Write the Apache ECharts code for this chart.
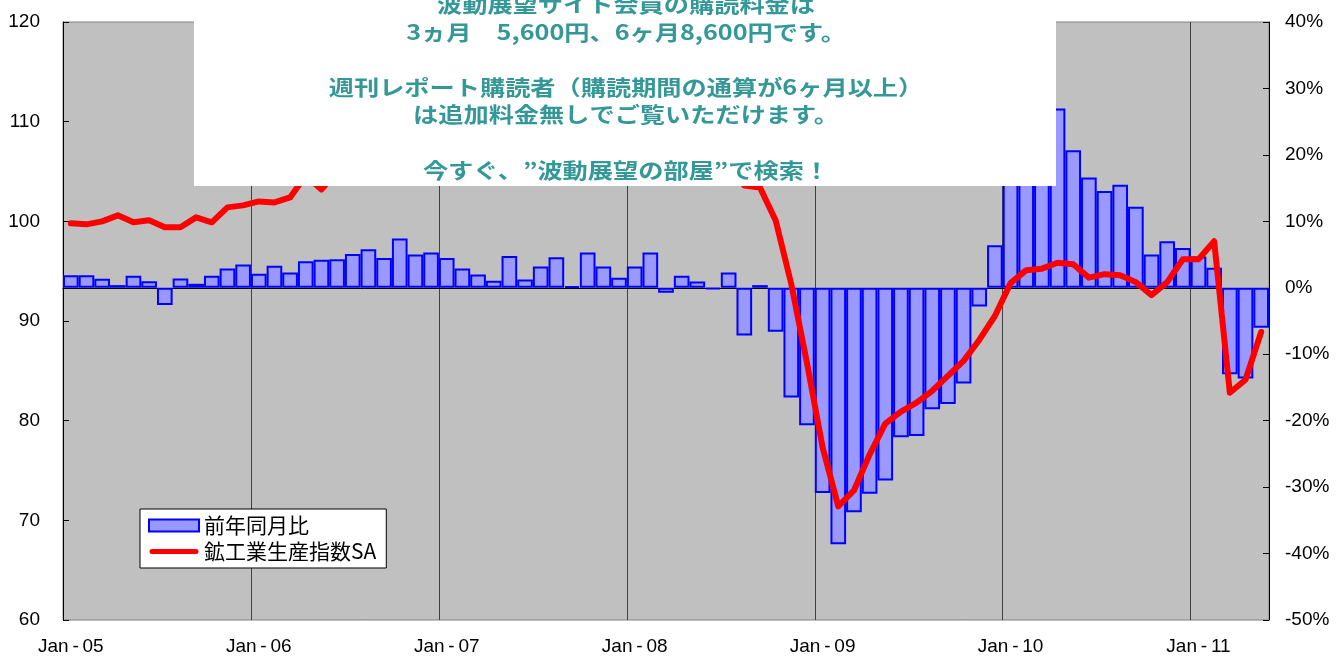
<!DOCTYPE html>
<html>
<head>
<meta charset="utf-8">
<script src="https://cdn.jsdelivr.net/npm/echarts@6/dist/echarts.min.js"></script>
<style>
  html, body { margin: 0; padding: 0; background: #ffffff; }
  #chart { width: 1340px; height: 659px; }
</style>
</head>
<body>
<div id="chart"></div>
<script>
// Monthly categories, Jan-05 .. May-11
const categories = [
  'Jan-05','Feb-05','Mar-05','Apr-05','May-05','Jun-05','Jul-05','Aug-05','Sep-05','Oct-05','Nov-05','Dec-05',
  'Jan-06','Feb-06','Mar-06','Apr-06','May-06','Jun-06','Jul-06','Aug-06','Sep-06','Oct-06','Nov-06','Dec-06',
  'Jan-07','Feb-07','Mar-07','Apr-07','May-07','Jun-07','Jul-07','Aug-07','Sep-07','Oct-07','Nov-07','Dec-07',
  'Jan-08','Feb-08','Mar-08','Apr-08','May-08','Jun-08','Jul-08','Aug-08','Sep-08','Oct-08','Nov-08','Dec-08',
  'Jan-09','Feb-09','Mar-09','Apr-09','May-09','Jun-09','Jul-09','Aug-09','Sep-09','Oct-09','Nov-09','Dec-09',
  'Jan-10','Feb-10','Mar-10','Apr-10','May-10','Jun-10','Jul-10','Aug-10','Sep-10','Oct-10','Nov-10','Dec-10',
  'Jan-11','Feb-11','Mar-11','Apr-11','May-11'
];

// Year-on-year change, % (right axis)
const yoyPct = [
   1.9,  1.9,  1.35, 0.4,  1.8,  1.0, -2.6,  1.4,  0.6,  1.8,  2.9,  3.5,
   2.1,  3.3,  2.3,  4.0,  4.2,  4.3,  5.1,  5.8,  4.5,  7.4,  5.0,  5.3,
   4.5,  2.9,  2.0,  1.05, 4.8,  1.25, 3.2,  4.6,  0.25, 5.3,  3.2,  1.5,
   3.2,  5.3, -0.75, 1.8,  0.95,-0.25, 2.3, -7.2,  0.4, -6.6,-16.5,-20.7,
 -30.9,-38.6,-33.8,-31.0,-29.0,-22.5,-22.3,-18.3,-17.5,-14.4, -2.8,  6.4,
  18.9, 31.3, 27.3, 27.0, 20.7, 16.6, 14.55,15.5, 12.2,  5.0,  7.0,  6.0,
   4.7,  3.0,-13.0,-13.65, -6.0
];

// Industrial production index, seasonally adjusted (left axis)
const indexSA = [
   99.8,  99.7, 100.0, 100.6,  99.9, 100.1,  99.4,  99.4, 100.4,  99.9, 101.4, 101.6,
  102.0, 101.9, 102.4, 104.6, 103.2, 105.0, 104.6, 105.9, 106.0, 105.6, 106.5, 107.1,
  106.4, 106.8, 105.8, 106.0, 106.9, 107.4, 106.0, 107.8, 106.3, 108.0, 107.9, 107.6,
  109.3, 108.1, 106.6, 108.0, 106.9, 105.6, 106.2, 103.6, 103.4, 100.1,  93.7,  85.8,
   77.3,  71.4,  73.0,  76.6,  79.7,  80.9,  81.8,  83.0,  84.5,  86.0,  88.1,  90.5,
   93.8,  95.1,  95.25, 95.85, 95.7,  94.35, 94.7,  94.6,  93.9,  92.6,  93.9,  96.2,
   96.2,  98.0,  82.8,  84.1,  88.9
];

const seriesNames = ['前年同月比', '鉱工業生産指数SA'];
const leftRange = [60, 120];
const rightRange = [-50, 40];

// Notice panel text lines
const noticeLines = [
  '波動展望サイト会員の購読料金は',
  '3ヵ月　5,600円、6ヶ月8,600円です。',
  '',
  '週刊レポート購読者（購読期間の通算が6ヶ月以上）',
  'は追加料金無しでご覧いただけます。',
  '',
  '今すぐ、”波動展望の部屋”で検索！'
];

const latin = '"Liberation Sans", Arial, sans-serif';
const cjk = '"Noto Sans CJK JP", "Noto Sans", sans-serif';

// Thick rounded stroke used as the legend swatch of the line series
const lineSwatch = 'path://M0,0 M50,12 M3,3.5 L47,3.5 A2.5,2.5 0 0 1 47,8.5 L3,8.5 A2.5,2.5 0 0 1 3,3.5 Z';

const chart = echarts.init(document.getElementById('chart'), null, { renderer: 'canvas' });

const noticeGraphics = [{
  type: 'rect',
  z: 100,
  shape: { x: 194, y: -5, width: 862, height: 191 },
  style: { fill: '#ffffff' }
}];
noticeLines.forEach((line, i) => {
  if (!line) return;
  noticeGraphics.push({
    type: 'text',
    z: 101,
    x: 626,
    y: 4 + i * 27.6,
    scaleX: 1.2,
    style: {
      text: line,
      x: 0, y: 0,
      align: 'center',
      verticalAlign: 'middle',
      fill: '#359898',
      font: 'bold 21px ' + cjk
    }
  });
});

const option = {
  animation: false,
  backgroundColor: '#ffffff',
  grid: {
    left: 63, right: 71, top: 22, bottom: 39,
    show: true,
    backgroundColor: '#c0c0c0',
    borderColor: '#808080',
    borderWidth: 1
  },
  legend: {
    orient: 'vertical',
    left: 140, top: 509,
    padding: [6, 10, 6, 8],
    backgroundColor: '#ffffff',
    borderColor: '#000000',
    borderWidth: 1,
    itemWidth: 50,
    itemHeight: 12,
    itemGap: 5,
    textStyle: { fontFamily: cjk, fontSize: 21, color: '#000000' },
    data: [
      { name: seriesNames[0], icon: 'rect', itemStyle: { color: '#9999ff', borderColor: '#0000ff', borderWidth: 2 } },
      { name: seriesNames[1], icon: lineSwatch, itemStyle: { color: '#ff0000', borderWidth: 0 } }
    ]
  },
  xAxis: {
    type: 'category',
    data: categories,
    boundaryGap: true,
    axisLine: { show: true, lineStyle: { color: '#000000', width: 1 } },
    axisTick: { show: false },
    axisLabel: {
      interval: (idx) => idx % 12 === 0,
      formatter: (v) => v.replace('-', '\u2009-\u2009'),
      color: '#000000',
      fontFamily: latin,
      fontSize: 19,
      margin: 17
    },
    splitLine: {
      show: true,
      interval: (idx) => idx % 12 === 0,
      lineStyle: { color: '#404040', width: 1 }
    }
  },
  yAxis: [
    {
      type: 'value',
      min: leftRange[0], max: leftRange[1], interval: 10,
      position: 'left',
      axisLine: { show: true, lineStyle: { color: '#000000', width: 1 } },
      axisTick: { show: true, inside: true, length: 6, lineStyle: { color: '#000000' } },
      axisLabel: { color: '#000000', fontFamily: latin, fontSize: 19, margin: 23 },
      splitLine: { show: false }
    },
    {
      type: 'value',
      min: rightRange[0], max: rightRange[1], interval: 10,
      position: 'right',
      axisLine: { show: true, lineStyle: { color: '#000000', width: 1 } },
      axisTick: { show: true, inside: true, length: 6, lineStyle: { color: '#000000' } },
      axisLabel: {
        color: '#000000', fontFamily: latin, fontSize: 19, margin: 16,
        formatter: (v) => v + '%'
      },
      splitLine: { show: false }
    }
  ],
  series: [
    {
      name: seriesNames[0],
      type: 'bar',
      yAxisIndex: 1,
      data: yoyPct,
      barCategoryGap: '0%',
      itemStyle: { color: '#9999ff', borderColor: '#0000ff', borderWidth: 2 },
      z: 2
    },
    {
      name: seriesNames[1],
      type: 'line',
      yAxisIndex: 0,
      data: indexSA,
      symbol: 'none',
      smooth: false,
      lineStyle: { color: '#ff0000', width: 6, cap: 'round', join: 'round' },
      itemStyle: { color: '#ff0000' },
      z: 3
    }
  ],
  graphic: noticeGraphics
};

chart.setOption(option);
</script>
</body>
</html>
